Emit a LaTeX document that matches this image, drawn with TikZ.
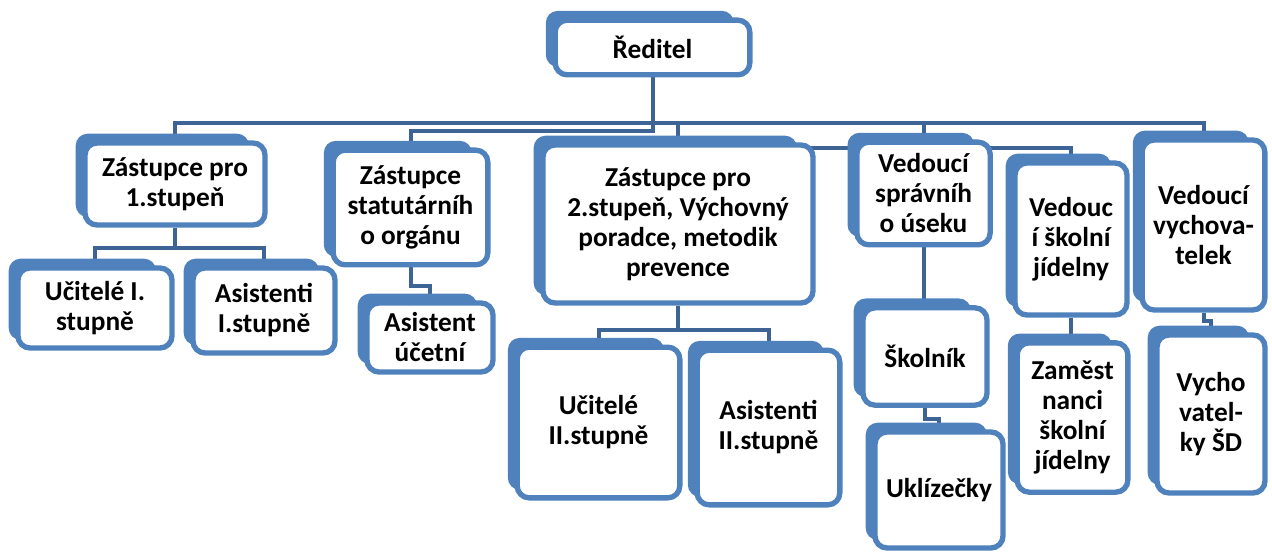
\documentclass[tikz,border=0pt]{standalone}
\usepackage{fontspec}
\setmainfont{Carlito}
\usetikzlibrary{positioning}

\definecolor{boxblue}{RGB}{79,129,189}
\definecolor{linkblue}{RGB}{62,100,150}

\pgfdeclarelayer{back}
\pgfdeclarelayer{shade}
\pgfsetlayers{back,shade,main}

\tikzset{
  box/.style={draw=boxblue, line width=4pt, fill=white, rounded corners=9pt,
    align=center, inner sep=2pt,
    font=\bfseries\fontsize{20.5}{22.5}\selectfont},
  link/.style={draw=linkblue, line width=3pt},
}

\begin{document}
\begin{tikzpicture}[x=0.75pt, y=-0.75pt]
    \useasboundingbox (0,0) rectangle (1272,556);

    % top level
    \node[box, minimum width=146pt, minimum height=41pt] (red) at (652.5,47.5) {Ředitel};

    % deputies and heads
    \node[box, minimum width=135pt, minimum height=61.5pt] (z1) at (175,184) {Zástupce pro\\1.stupeň};
    \node[box, minimum width=116pt, minimum height=86pt] (zstat) at (410.5,207.5) {Zástupce\\statutárníh\\o orgánu};
    \node[box, minimum width=202.5pt, minimum height=118.5pt] (z2) at (678,224)
        {Zástupce pro\\2.stupeň, Výchovný\\poradce, metodik\\prevence};
    \node[box, minimum width=100pt, minimum height=77pt] (vspr) at (923.5,193.5) {Vedoucí\\správníh\\o úseku};
    \node[box, minimum width=84pt, minimum height=114pt] (vsj) at (1071,239) {Vedouc\\í školní\\jídelny};
    \node[box, minimum width=92pt, minimum height=127.5pt] (vvych) at (1203.5,225) {Vedoucí\\vychova-\\telek};

    % staff
    \node[box, minimum width=115.5pt, minimum height=60pt] (uc1) at (95,308) {Učitelé I.\\stupně};
    \node[box, minimum width=106.5pt, minimum height=63.75pt] (as1) at (264,310.5) {Asistenti\\I.stupně};
    \node[box, minimum width=94.5pt, minimum height=51.75pt] (asuc) at (430,337.5) {Asistent\\účetní};
    \node[box, minimum width=122pt, minimum height=113pt] (uc2) at (598.5,422.5) {Učitelé\\II.stupně};
    \node[box, minimum width=107pt, minimum height=116pt] (as2) at (768.5,427.5) {Asistenti\\II.stupně};
    \node[box, minimum width=93pt, minimum height=73pt] (skol) at (925,356.5) {Školník};
    \node[box, minimum width=96pt, minimum height=87pt] (ukl) at (939,490) {Uklízečky};
    \node[box, minimum width=83pt, minimum height=112pt] (zam) at (1072.5,417.5) {Zaměst\\nanci\\školní\\jídelny};
    \node[box, minimum width=81pt, minimum height=118.5pt] (vychsd) at (1211,414) {Vycho\\vatel-\\ky ŠD};

    % offset blue copies behind the boxes
    \begin{pgfonlayer}{shade}
    \foreach \n in {red,z1,zstat,z2,vspr,vsj,vvych,uc1,as1,asuc,uc2,as2,skol,ukl,zam,vychsd}
        \fill[boxblue, rounded corners=9pt] ([shift={(-5pt,5pt)}]\n.north west)
            rectangle ([shift={(-14pt,8pt)}]\n.south east);
    \end{pgfonlayer}

    % connectors
    \begin{pgfonlayer}{back}
    \coordinate (bus) at ([yshift=-34pt]red.south);
    \coordinate (bus2) at ([yshift=-6pt]bus);
    \coordinate (bus3) at ([yshift=-19pt]bus);
    \draw[link] (red) -- (bus);
    \draw[link] (z1) |- (bus) -| (vvych);
    \draw[link] (bus) -| (z2);
    \draw[link] (bus) -| (vspr);
    \draw[link] (bus) -- (bus2) -| (zstat);
    \draw[link] (z2) |- (bus3) -| (vsj);

    \coordinate (m1) at ([yshift=-15pt]z1.south);
    \draw[link] (z1) -- (m1);
    \draw[link] (uc1) |- (m1) -| (as1);
    \draw[link] (zstat) -- ([yshift=-14pt]zstat.south) -| (asuc);
    \coordinate (m2) at ([yshift=-18pt]z2.south);
    \draw[link] (z2) -- (m2);
    \draw[link] (uc2) |- (m2) -| (as2);
    \draw[link] (vspr) -- (vspr |- skol);
    \draw[link] (skol) -- ([yshift=-8pt]skol.south) -| (ukl);
    \draw[link] (vsj) -- (vsj |- zam);
    \draw[link] (vvych) -- ([yshift=-6pt]vvych.south) -| (vychsd);
    \end{pgfonlayer}
\end{tikzpicture}
\end{document}
